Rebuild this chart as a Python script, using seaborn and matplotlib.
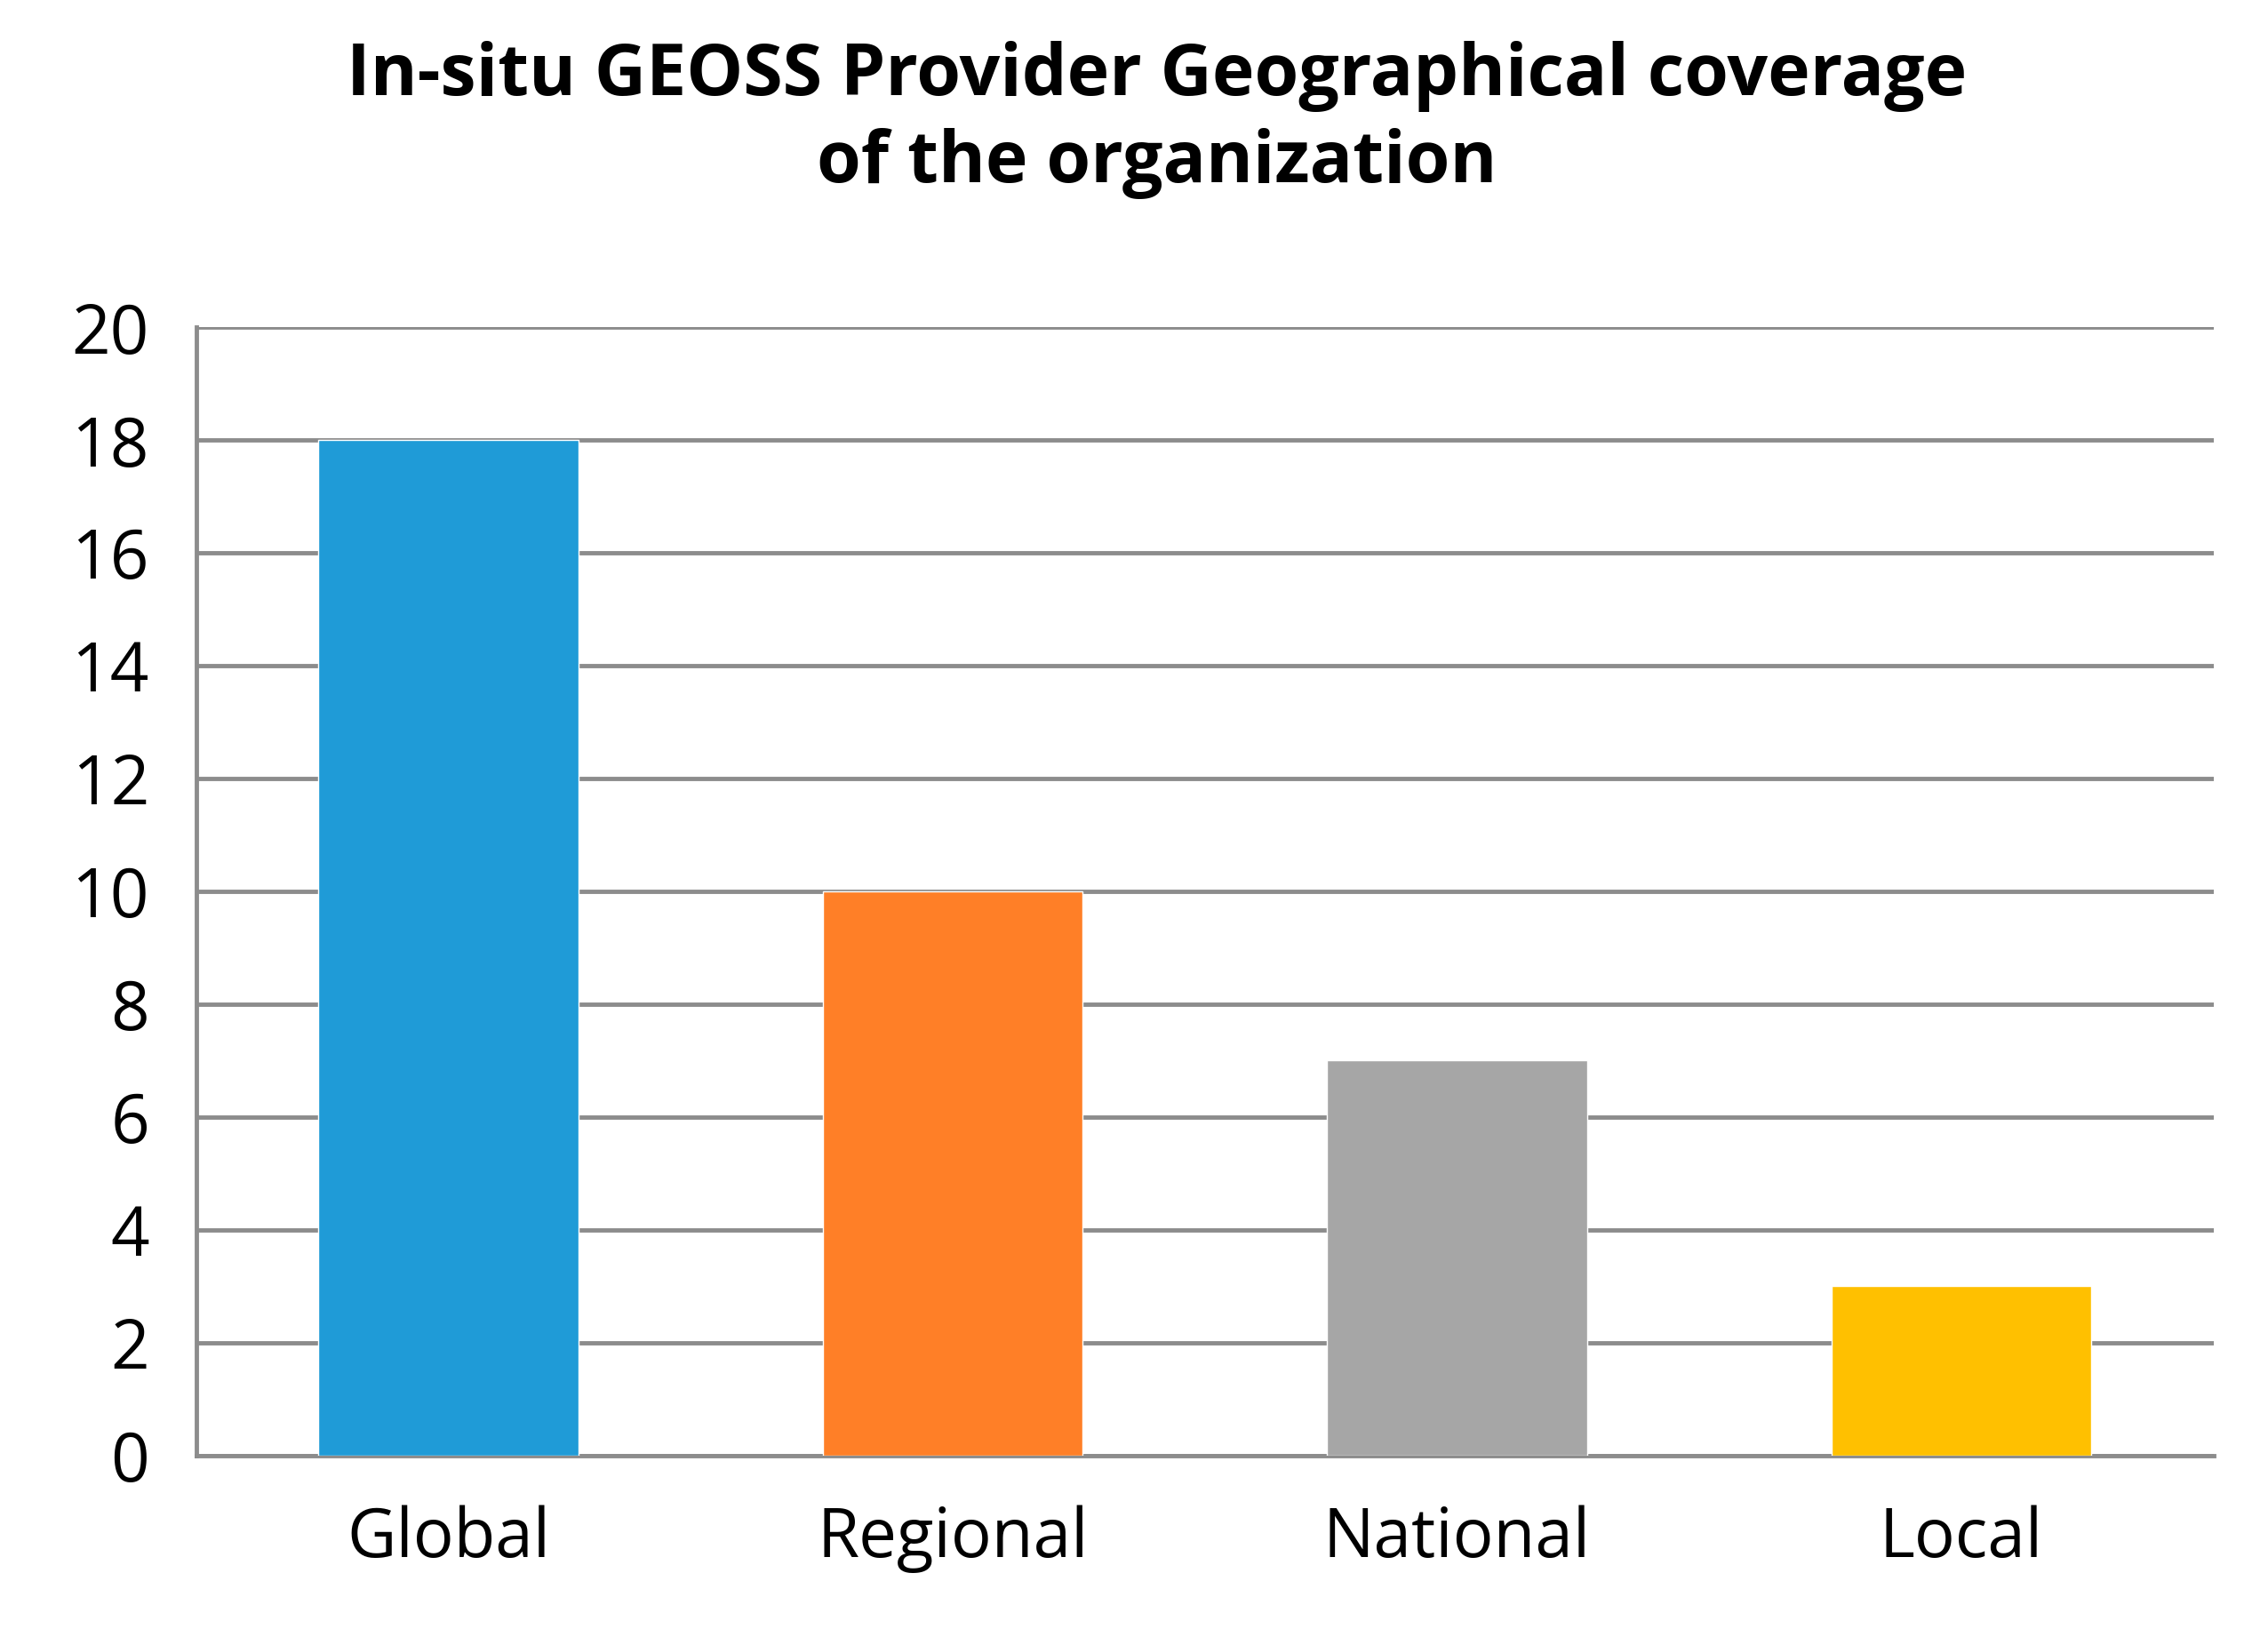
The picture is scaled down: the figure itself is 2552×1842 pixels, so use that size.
import numpy as np
import pandas as pd
import matplotlib
matplotlib.use("Agg")
import matplotlib.pyplot as plt
import seaborn as sns

categories = ["Global", "Regional", "National", "Local"]
values = [18, 10, 7, 3]
colors = ["#1F9BD7", "#FF7F27", "#A6A6A6", "#FFC000"]

sns.set_style("white")
plt.rcParams['font.family'] = ['Open Sans', 'DejaVu Sans']
plt.rcParams['text.color'] = 'black'
plt.rcParams['xtick.color'] = 'black'
plt.rcParams['ytick.color'] = 'black'

df = pd.DataFrame({"cat": categories, "val": values})

fig = plt.figure(figsize=(25.52, 18.42), dpi=100)
ax = fig.add_axes([0.0865, 0.111, 0.8895, 0.689])
sns.barplot(data=df, x="cat", y="val", hue="cat", palette=colors, legend=False,
            width=0.515, saturation=1, ax=ax, zorder=3)

grid_c = "#8C8C8C"
ax.set_ylim(0, 20)
ax.set_xlim(-0.5, 3.5)
ax.set_yticks(np.arange(0, 21, 2))
ax.yaxis.grid(True, color=grid_c, linewidth=3.5, zorder=0)
ax.set_axisbelow(True)
for s in ["top", "right"]:
    ax.spines[s].set_visible(False)
for s in ["left", "bottom"]:
    ax.spines[s].set_color(grid_c)
    ax.spines[s].set_linewidth(3.5)
ax.set_xticks(np.arange(-0.5, 4, 1), minor=True)
ax.tick_params(axis="x", which="major", length=0, labelsize=55, pad=40, labelcolor="black")
ax.tick_params(axis="x", which="minor", length=25, width=3.5, color=grid_c, direction="out")
ax.tick_params(axis="y", length=28, width=3.5, color=grid_c, direction="out", labelsize=55,
               pad=10, labelcolor="black")
ax.set_xlabel("")
ax.set_ylabel("")

fig.suptitle("In-situ GEOSS Provider Geographical coverage\nof the organization",
             x=0.51, y=0.975, fontsize=58, fontweight="bold", linespacing=1.3, color="black")

fig.savefig("out.png", dpi=100)
